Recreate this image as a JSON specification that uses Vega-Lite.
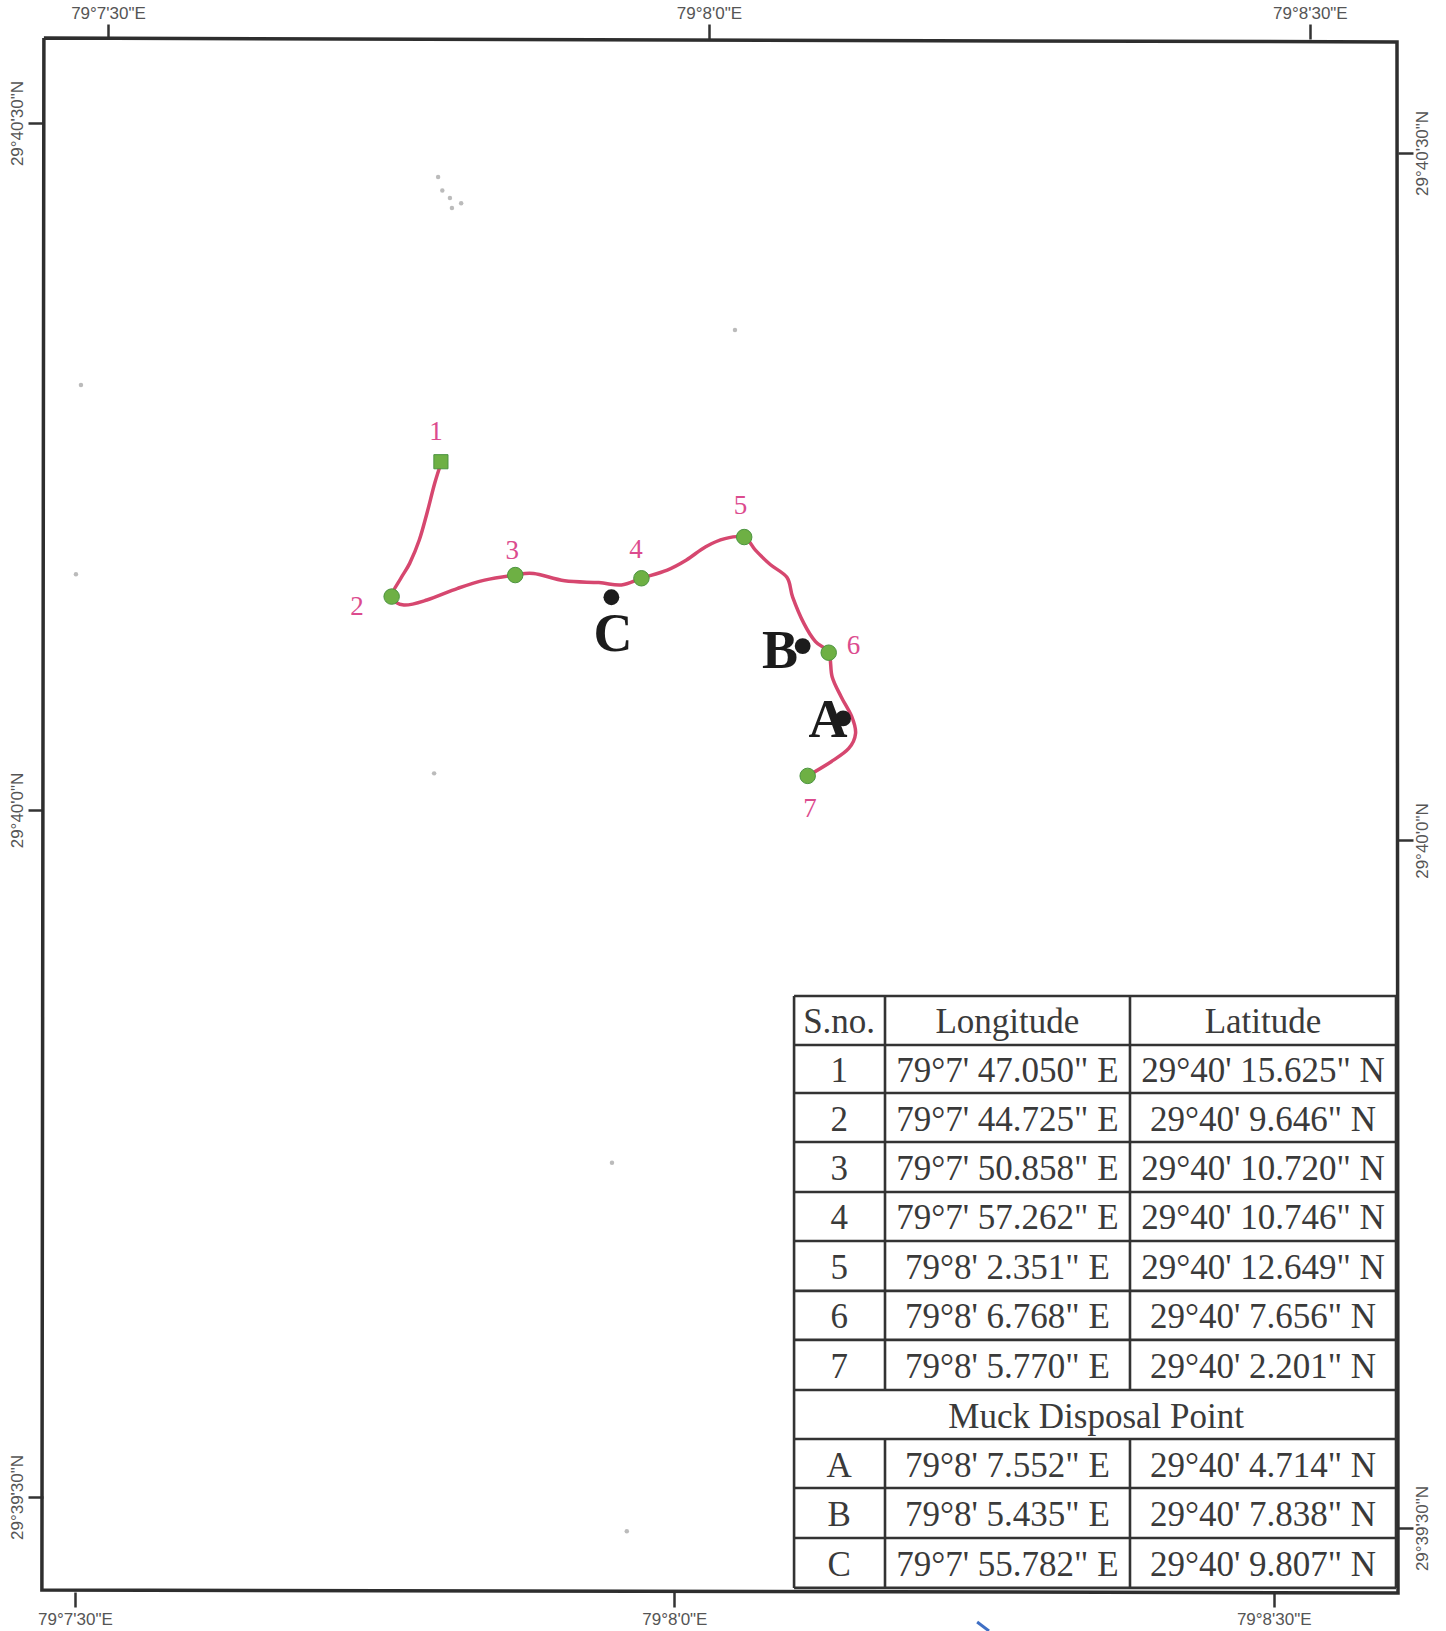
{
"$schema":"https://vega.github.io/schema/vega-lite/v6.json",
"width":1355,"height":1553,
"autosize":{"type":"none"},
"padding":{"left":43,"top":39,"right":48,"bottom":39},
"background":"white",
"config":{"view":{"stroke":null}},
"datasets":{
"route":[{"i":1,"x":46.65,"y":15.21},{"i":2,"x":46.31,"y":14.27},{"i":3,"x":45.92,"y":12.95},{"i":4,"x":45.54,"y":11.79},{"i":5,"x":45.06,"y":10.77},{"i":6,"x":44.62,"y":10.12},{"i":7,"x":44.16,"y":9.32},{"i":8,"x":44.77,"y":8.95},{"i":9,"x":45.92,"y":9.17},{"i":10,"x":47.46,"y":9.68},{"i":11,"x":48.8,"y":10.04},{"i":12,"x":50.3,"y":10.26},{"i":13,"x":51.25,"y":10.33},{"i":14,"x":52.8,"y":10.01},{"i":15,"x":54.5,"y":9.93},{"i":16,"x":55.63,"y":9.83},{"i":17,"x":56.63,"y":10.12},{"i":18,"x":57.92,"y":10.48},{"i":19,"x":58.88,"y":10.92},{"i":20,"x":59.84,"y":11.5},{"i":21,"x":60.8,"y":11.85},{"i":22,"x":61.76,"y":11.92},{"i":23,"x":62.32,"y":11.35},{"i":24,"x":63.06,"y":10.72},{"i":25,"x":63.9,"y":10.15},{"i":26,"x":64.18,"y":9.3},{"i":27,"x":64.74,"y":8.15},{"i":28,"x":65.32,"y":7.35},{"i":29,"x":65.98,"y":6.87},{"i":30,"x":66.15,"y":5.82},{"i":31,"x":66.6,"y":4.95},{"i":32,"x":67.13,"y":4.08},{"i":33,"x":67.32,"y":3.35},{"i":34,"x":66.98,"y":2.69},{"i":35,"x":66.1,"y":2.11},{"i":36,"x":64.93,"y":1.49}],
"frame":[{"i":1,"x":26.8,"y":33.71},{"i":2,"x":94.35,"y":33.54},{"i":3,"x":94.4,"y":-34.19},{"i":4,"x":26.7,"y":-34.06},{"i":5,"x":26.8,"y":33.71}],
"stops":[{"n":"2","x":44.16,"y":9.32},{"n":"3","x":50.33,"y":10.26},{"n":"4","x":56.63,"y":10.12},{"n":"5","x":61.76,"y":11.92},{"n":"6","x":65.98,"y":6.87},{"n":"7","x":64.93,"y":1.49}],
"start":[{"n":"1","x":46.62,"y":15.21}],
"stopLabels":[{"n":"1","x":46.38,"y":16.51},{"n":"2","x":42.43,"y":8.87},{"n":"3","x":50.18,"y":11.31},{"n":"4","x":56.36,"y":11.35},{"n":"5","x":61.57,"y":13.27},{"n":"6","x":67.22,"y":7.16},{"n":"7","x":65.05,"y":0.04}],
"muck":[{"n":"A","x":66.7,"y":4.0},{"n":"B","x":64.68,"y":7.16},{"n":"C","x":55.13,"y":9.29}],
"muckLabels":[{"n":"A","x":65.95,"y":3.88},{"n":"B","x":63.55,"y":6.92},{"n":"C","x":55.21,"y":7.64}],
"specks":[{"x":46.48,"y":27.64},{"x":46.69,"y":27.05},{"x":47.07,"y":26.73},{"x":47.63,"y":26.5},{"x":47.17,"y":26.29},{"x":61.3,"y":20.96},{"x":28.65,"y":18.56},{"x":28.4,"y":10.3},{"x":46.28,"y":1.6},{"x":55.16,"y":-15.4},{"x":55.9,"y":-31.5}],
"grid":[
{"x":64.25,"x2":94.3,"y":-8.12,"y2":-8.12},{"x":64.25,"x2":94.3,"y":-10.26,"y2":-10.26},{"x":64.25,"x2":94.3,"y":-12.36,"y2":-12.36},{"x":64.25,"x2":94.3,"y":-14.5,"y2":-14.5},{"x":64.25,"x2":94.3,"y":-16.68,"y2":-16.68},{"x":64.25,"x2":94.3,"y":-18.82,"y2":-18.82},{"x":64.25,"x2":94.3,"y":-21.0,"y2":-21.0},{"x":64.25,"x2":94.3,"y":-23.14,"y2":-23.14},{"x":64.25,"x2":94.3,"y":-25.33,"y2":-25.33},{"x":64.25,"x2":94.3,"y":-27.47,"y2":-27.47},{"x":64.25,"x2":94.3,"y":-29.61,"y2":-29.61},{"x":64.25,"x2":94.3,"y":-31.79,"y2":-31.79},{"x":64.25,"x2":94.3,"y":-33.97,"y2":-33.97},
{"x":64.25,"x2":64.25,"y":-8.12,"y2":-33.97},{"x":94.3,"x2":94.3,"y":-8.12,"y2":-33.97},
{"x":68.79,"x2":68.79,"y":-8.12,"y2":-25.33},{"x":68.79,"x2":68.79,"y":-27.47,"y2":-33.97},
{"x":81.02,"x2":81.02,"y":-8.12,"y2":-25.33},{"x":81.02,"x2":81.02,"y":-27.47,"y2":-33.97}],
"cells":[
{"x":66.5,"y":-9.19,"t":"S.no."},{"x":74.9,"y":-9.19,"t":"Longitude"},{"x":87.66,"y":-9.19,"t":"Latitude"},
{"x":66.5,"y":-11.31,"t":"1"},{"x":74.9,"y":-11.31,"t":"79°7' 47.050\" E"},{"x":87.66,"y":-11.31,"t":"29°40' 15.625\" N"},
{"x":66.5,"y":-13.43,"t":"2"},{"x":74.9,"y":-13.43,"t":"79°7' 44.725\" E"},{"x":87.66,"y":-13.43,"t":"29°40' 9.646\" N"},
{"x":66.5,"y":-15.59,"t":"3"},{"x":74.9,"y":-15.59,"t":"79°7' 50.858\" E"},{"x":87.66,"y":-15.59,"t":"29°40' 10.720\" N"},
{"x":66.5,"y":-17.75,"t":"4"},{"x":74.9,"y":-17.75,"t":"79°7' 57.262\" E"},{"x":87.66,"y":-17.75,"t":"29°40' 10.746\" N"},
{"x":66.5,"y":-19.91,"t":"5"},{"x":74.9,"y":-19.91,"t":"79°8' 2.351\" E"},{"x":87.66,"y":-19.91,"t":"29°40' 12.649\" N"},
{"x":66.5,"y":-22.07,"t":"6"},{"x":74.9,"y":-22.07,"t":"79°8' 6.768\" E"},{"x":87.66,"y":-22.07,"t":"29°40' 7.656\" N"},
{"x":66.5,"y":-24.23,"t":"7"},{"x":74.9,"y":-24.23,"t":"79°8' 5.770\" E"},{"x":87.66,"y":-24.23,"t":"29°40' 2.201\" N"},
{"x":79.33,"y":-26.4,"t":"Muck Disposal Point"},
{"x":66.5,"y":-28.54,"t":"A"},{"x":74.9,"y":-28.54,"t":"79°8' 7.552\" E"},{"x":87.66,"y":-28.54,"t":"29°40' 4.714\" N"},
{"x":66.5,"y":-30.7,"t":"B"},{"x":74.9,"y":-30.7,"t":"79°8' 5.435\" E"},{"x":87.66,"y":-30.7,"t":"29°40' 7.838\" N"},
{"x":66.5,"y":-32.88,"t":"C"},{"x":74.9,"y":-32.88,"t":"79°7' 55.782\" E"},{"x":87.66,"y":-32.88,"t":"29°40' 9.807\" N"}],
"ticks":[{"x":30,"y":30},{"x":60,"y":0},{"x":90,"y":-30}],
"blue":[{"i":1,"x":73.39,"y":-35.46},{"i":2,"x":73.98,"y":-35.85}]
},
"resolve":{"scale":{"x":"independent","y":"independent"},"axis":{"x":"independent","y":"independent"}},
"layer":[
{
"encoding":{
"x":{"field":"x","type":"quantitative","scale":{"domain":[26.755,94.4],"nice":false,"zero":false},
"axis":{"orient":"top","title":null,"values":[30,60,90],"grid":false,"domain":false,"tickSize":15,"tickWidth":2.5,"tickColor":"#333333","labelFont":"Liberation Sans","labelFontSize":17,"labelColor":"#555555","labelPadding":2,
"labelExpr":"datum.value==30?'79°7\\'30\"E':datum.value==60?'79°8\\'0\"E':'79°8\\'30\"E'"}},
"y":{"field":"y","type":"quantitative","scale":{"domain":[-34.15,33.67],"nice":false,"zero":false},
"axis":{"orient":"left","title":null,"values":[30,0,-30],"grid":false,"domain":false,"tickSize":15,"tickWidth":2.5,"tickColor":"#333333","labelFont":"Liberation Sans","labelFontSize":17,"labelColor":"#555555","labelPadding":2,"labelAngle":-90,"labelAlign":"center","labelBaseline":"bottom",
"labelExpr":"datum.value==30?'29°40\\'30\"N':datum.value==0?'29°40\\'0\"N':'29°39\\'30\"N'"}}
},
"layer":[
{"data":{"name":"specks"},"mark":{"type":"point","filled":true,"color":"#777777","opacity":0.5,"size":20}},
{"data":{"name":"frame"},"mark":{"type":"line","color":"#2e2e2e","strokeWidth":3.5},"encoding":{"order":{"field":"i"}}},
{"data":{"name":"blue"},"mark":{"type":"line","color":"#3f6fc4","strokeWidth":3},"encoding":{"order":{"field":"i"}}},
{"data":{"name":"grid"},"mark":{"type":"rule","color":"#333333","strokeWidth":2.6},"encoding":{"x2":{"field":"x2"},"y2":{"field":"y2"}}},
{"data":{"name":"cells"},"mark":{"type":"text","font":"Liberation Serif","fontSize":35,"color":"#3a3a3a","align":"center","baseline":"middle","dy":2},"encoding":{"text":{"field":"t"}}},
{"data":{"name":"route"},"mark":{"type":"line","color":"#d6476f","strokeWidth":3.5,"interpolate":"cardinal"},"encoding":{"order":{"field":"i"}}},
{"data":{"name":"stops"},"mark":{"type":"point","shape":"circle","filled":true,"color":"#6eb044","stroke":"#4c9440","strokeWidth":1,"opacity":1,"size":240}},
{"data":{"name":"start"},"mark":{"type":"point","shape":"square","filled":true,"color":"#6eb044","stroke":"#4c9440","strokeWidth":1,"opacity":1,"size":200}},
{"data":{"name":"stopLabels"},"mark":{"type":"text","font":"Liberation Serif","fontSize":27,"color":"#dc4b8e","align":"center","baseline":"middle"},"encoding":{"text":{"field":"n"}}},
{"data":{"name":"muck"},"mark":{"type":"point","shape":"circle","filled":true,"color":"#1c1c1c","opacity":1,"size":250}},
{"data":{"name":"muckLabels"},"mark":{"type":"text","font":"Liberation Serif","fontWeight":"bold","fontSize":54,"color":"#1c1c1c","align":"center","baseline":"middle"},"encoding":{"text":{"field":"n"}}}
]
},
{
"data":{"name":"ticks"},
"mark":{"type":"point","opacity":0,"size":1},
"encoding":{
"x":{"field":"x","type":"quantitative","scale":{"domain":[28.4,96.22],"nice":false,"zero":false},
"axis":{"orient":"bottom","title":null,"values":[30,60,90],"grid":false,"domain":false,"tickSize":15,"tickWidth":2.5,"tickColor":"#333333","labelFont":"Liberation Sans","labelFontSize":17,"labelColor":"#555555","labelPadding":4,
"labelExpr":"datum.value==30?'79°7\\'30\"E':datum.value==60?'79°8\\'0\"E':'79°8\\'30\"E'"}},
"y":{"field":"y","type":"quantitative","scale":{"domain":[-32.79,34.97],"nice":false,"zero":false},
"axis":{"orient":"right","title":null,"values":[30,0,-30],"grid":false,"domain":false,"tickSize":15,"tickWidth":2.5,"tickColor":"#333333","labelFont":"Liberation Sans","labelFontSize":17,"labelColor":"#555555","labelPadding":1,"labelAngle":-90,"labelAlign":"center","labelBaseline":"top",
"labelExpr":"datum.value==30?'29°40\\'30\"N':datum.value==0?'29°40\\'0\"N':'29°39\\'30\"N'"}}
}
}
]
}
